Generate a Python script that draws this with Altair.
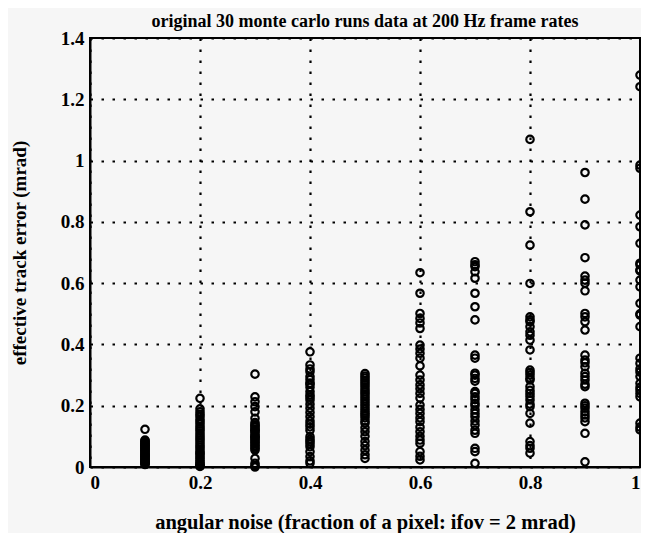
import altair as alt
import pandas as pd

noise_levels = [0.1, 0.2, 0.3, 0.4, 0.5, 0.6, 0.7, 0.8, 0.9, 1.0]

err_01 = [0.123, 0.088, 0.085, 0.082, 0.079, 0.076, 0.073, 0.070, 0.067, 0.064, 0.061, 0.058,
          0.055, 0.052, 0.049, 0.046, 0.043, 0.040, 0.037, 0.034, 0.031, 0.028, 0.025, 0.022,
          0.019, 0.016, 0.014, 0.012, 0.010, 0.008]
err_02 = [0.224, 0.190, 0.180, 0.172, 0.165, 0.155, 0.148, 0.140, 0.132, 0.125, 0.118, 0.110,
          0.102, 0.095, 0.088, 0.080, 0.072, 0.065, 0.058, 0.050, 0.045, 0.040, 0.033, 0.027,
          0.020, 0.015, 0.010, 0.006, 0.003, 0.002]
err_03 = [0.303, 0.229, 0.213, 0.197, 0.180, 0.159, 0.145, 0.138, 0.135, 0.130, 0.124, 0.120,
          0.118, 0.112, 0.106, 0.100, 0.098, 0.095, 0.090, 0.085, 0.080, 0.075, 0.070, 0.065,
          0.060, 0.055, 0.028, 0.012, 0.005, 0.000]
err_04 = [0.376, 0.333, 0.320, 0.311, 0.295, 0.285, 0.274, 0.270, 0.260, 0.246, 0.235, 0.228,
          0.219, 0.205, 0.192, 0.178, 0.164, 0.150, 0.140, 0.131, 0.120, 0.099, 0.090, 0.083,
          0.075, 0.066, 0.050, 0.034, 0.020, 0.012]
err_05 = [0.305, 0.297, 0.290, 0.282, 0.275, 0.268, 0.260, 0.252, 0.245, 0.238, 0.230, 0.222,
          0.214, 0.206, 0.198, 0.190, 0.182, 0.175, 0.168, 0.160, 0.150, 0.143, 0.128, 0.115,
          0.100, 0.083, 0.070, 0.055, 0.040, 0.028]
err_06 = [0.634, 0.567, 0.501, 0.485, 0.470, 0.452, 0.398, 0.385, 0.371, 0.355, 0.330, 0.300,
          0.284, 0.268, 0.255, 0.240, 0.225, 0.202, 0.188, 0.175, 0.160, 0.148, 0.130, 0.115,
          0.100, 0.088, 0.077, 0.050, 0.035, 0.023]
err_07 = [0.670, 0.660, 0.654, 0.637, 0.616, 0.567, 0.523, 0.480, 0.365, 0.355, 0.306, 0.300,
          0.289, 0.280, 0.246, 0.240, 0.229, 0.220, 0.208, 0.200, 0.186, 0.175, 0.164, 0.150,
          0.137, 0.120, 0.110, 0.061, 0.050, 0.012]
err_08 = [1.069, 0.833, 0.724, 0.599, 0.490, 0.480, 0.474, 0.458, 0.441, 0.430, 0.414, 0.382,
          0.316, 0.308, 0.300, 0.290, 0.284, 0.262, 0.250, 0.240, 0.230, 0.219, 0.205, 0.197,
          0.175, 0.143, 0.083, 0.070, 0.061, 0.045]
err_09 = [0.961, 0.874, 0.790, 0.683, 0.623, 0.610, 0.600, 0.575, 0.501, 0.490, 0.474, 0.447,
          0.365, 0.349, 0.340, 0.327, 0.306, 0.295, 0.284, 0.270, 0.262, 0.208, 0.200, 0.192,
          0.180, 0.170, 0.160, 0.148, 0.110, 0.017]
err_10 = [1.279, 1.241, 0.985, 0.975, 0.822, 0.784, 0.730, 0.665, 0.660, 0.643, 0.640, 0.610,
          0.588, 0.534, 0.500, 0.496, 0.458, 0.355, 0.338, 0.320, 0.310, 0.295, 0.273, 0.260,
          0.251, 0.240, 0.229, 0.143, 0.130, 0.121]

columns = [err_01, err_02, err_03, err_04, err_05, err_06, err_07, err_08, err_09, err_10]

rows = []
for lvl, vals in zip(noise_levels, columns):
    for v in vals:
        rows.append({"noise": lvl, "err": v})
df = pd.DataFrame(rows)

FONT = "Liberation Serif"

chart = alt.Chart(df).mark_point(
    shape="circle", filled=False, color="black", size=55, strokeWidth=2.2, opacity=1
).encode(
    x=alt.X("noise:Q",
            scale=alt.Scale(domain=[0, 1], nice=False, zero=False),
            axis=alt.Axis(values=[0, 0.2, 0.4, 0.6, 0.8, 1.0], format="~g",
                          title="angular noise (fraction of a pixel: ifov = 2 mrad)",
                          titleFontSize=20.5,
                          labelPadding=6, titlePadding=20)),
    y=alt.Y("err:Q",
            scale=alt.Scale(domain=[0, 1.4], nice=False),
            axis=alt.Axis(values=[0, 0.2, 0.4, 0.6, 0.8, 1.0, 1.2, 1.4], format="~g",
                          title="effective track error (mrad)",
                          titleFontSize=19,
                          labelPadding=6, titlePadding=31)),
).properties(
    width=550,
    height=429,
    title=alt.TitleParams("original 30 monte carlo runs data at 200 Hz frame rates",
                          font=FONT, fontSize=18, fontWeight="bold", color="black",
                          offset=-2),
    background="#f6f6f6",
    autosize=alt.AutoSizeParams(type="none"),
    padding={"left": 82, "top": 30, "right": 1, "bottom": 66},
).configure_view(
    stroke="black", strokeWidth=2
).configure_axis(
    grid=True, gridColor="black", gridDash=[2.5, 8.5], gridWidth=2.2, gridOpacity=1,
    domain=True, domainColor="black", domainWidth=2,
    ticks=False,
    labelFont=FONT, labelFontSize=19, labelFontWeight="bold", labelColor="black",
    titleFont=FONT, titleFontWeight="bold", titleColor="black",
)

chart.save("out.html", embed_options={"renderer": "svg", "actions": False})
